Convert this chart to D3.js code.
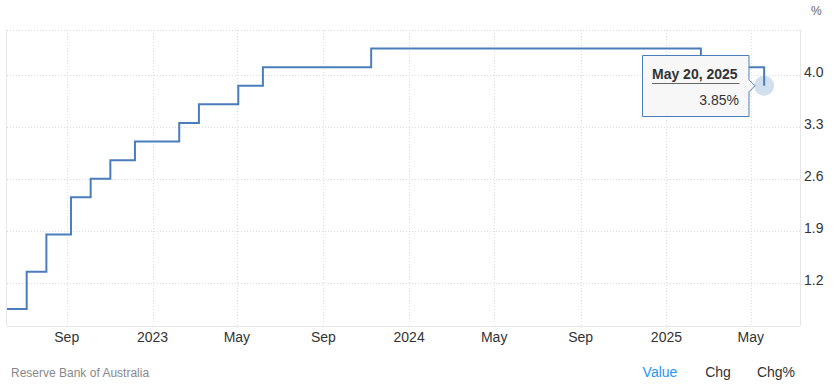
<!DOCTYPE html>
<html>
<head>
<meta charset="utf-8">
<script src="https://cdn.jsdelivr.net/npm/d3@7"></script>
<style>
  body { margin: 0; background: #fff; font-family: Arial, "Liberation Sans", sans-serif; }
</style>
</head>
<body>
<div class="chart"></div>
<script>
// RBA cash rate target, step dates and values
var rateDates = ["2022-06-08", "2022-07-06", "2022-08-03", "2022-09-07", "2022-10-05",
  "2022-11-02", "2022-12-07", "2023-02-08", "2023-03-08", "2023-05-03", "2023-06-07",
  "2023-11-08", "2025-02-19", "2025-05-20"];
var rateValues = [0.85, 1.35, 1.85, 2.35, 2.60, 2.85, 3.10, 3.35, 3.60, 3.85, 4.10, 4.35, 4.10, 3.85];
var yTicks = [1.2, 1.9, 2.6, 3.3, 4.0];
var xTickDates = ["2022-09-01", "2023-01-01", "2023-05-01", "2023-09-01", "2024-01-01",
  "2024-05-01", "2024-09-01", "2025-01-01", "2025-05-01"];
var xTickLabels = ["Sep", "2023", "May", "Sep", "2024", "May", "Sep", "2025", "May"];

var svgWidth = 834;
var svgHeight = 386;

var parse = d3.timeParse("%Y-%m-%d");
var data = rateDates.map(function(d, i) { return { date: parse(d), value: rateValues[i] }; });

var svg = d3.select(".chart")
  .append("svg")
  .attr("width", svgWidth)
  .attr("height", svgHeight);

var x = d3.scaleTime()
  .domain([parse("2022-06-08"), parse("2025-07-10")])
  .range([7, 800]);

var y = d3.scaleLinear()
  .domain([0.62, 4.6])
  .range([326, 30]);

// grid
svg.append("g").selectAll("line")
  .data(yTicks.concat([4.6]))
  .enter().append("line")
  .attr("x1", 7).attr("x2", 800)
  .attr("y1", d => Math.round(y(d)) + 0.5).attr("y2", d => Math.round(y(d)) + 0.5)
  .attr("stroke", "#dcdcdc").attr("stroke-dasharray", "1,2");

svg.append("g").selectAll("line")
  .data(xTickDates)
  .enter().append("line")
  .attr("x1", d => Math.round(x(parse(d))) + 0.5).attr("x2", d => Math.round(x(parse(d))) + 0.5)
  .attr("y1", 30).attr("y2", 326)
  .attr("stroke", "#dcdcdc").attr("stroke-dasharray", "1,2");

// frame lines
svg.append("line").attr("x1", 6.5).attr("x2", 6.5).attr("y1", 30).attr("y2", 326)
  .attr("stroke", "#e6e6e6");
svg.append("line").attr("x1", 800.5).attr("x2", 800.5).attr("y1", 30).attr("y2", 326)
  .attr("stroke", "#e6e6e6");
svg.append("line").attr("x1", 7).attr("x2", 800).attr("y1", 326.5).attr("y2", 326.5)
  .attr("stroke", "#e6e6e6");

// axis labels
svg.append("g").selectAll("text")
  .data(xTickDates)
  .enter().append("text")
  .attr("x", d => x(parse(d)))
  .attr("y", 342)
  .attr("text-anchor", "middle")
  .attr("font-size", "14px")
  .attr("fill", "#333")
  .text((d, i) => xTickLabels[i]);

svg.append("g").selectAll("text")
  .data(yTicks)
  .enter().append("text")
  .attr("x", 804)
  .attr("y", d => y(d) + 2.5)
  .attr("font-size", "14px")
  .attr("fill", "#333")
  .text(d => d.toFixed(1));

svg.append("text")
  .attr("x", 811).attr("y", 15)
  .attr("font-size", "12px")
  .attr("fill", "#666")
  .text("%");

// step line
var line = d3.line()
  .x(d => x(d.date))
  .y(d => y(d.value))
  .curve(d3.curveStepAfter);

svg.append("path")
  .datum(data)
  .attr("fill", "none")
  .attr("stroke", "#4a7ebb")
  .attr("stroke-width", 2)
  .attr("d", line);

// hover marker
var last = data[data.length - 1];
svg.append("circle")
  .attr("cx", x(last.date))
  .attr("cy", y(last.value))
  .attr("r", 10)
  .attr("fill", "#4a7ebb")
  .attr("fill-opacity", 0.25);

// tooltip
var tip = svg.append("g").attr("transform", "translate(642.5,55.5)");
var bw = 106.5;
var py = y(last.value) - 55.5;
tip.append("path")
  .attr("d", `M0,0 H${bw} V${py - 6} L${bw + 6},${py} L${bw},${py + 6} V61 H0 Z`)
  .attr("fill", "#f7f7f7")
  .attr("stroke", "#4a7ebb")
  .attr("stroke-width", 1);
tip.append("text")
  .attr("x", 9.5).attr("y", 23)
  .attr("font-size", "14px").attr("font-weight", "bold")
  .attr("fill", "#333")
  .text("May 20, 2025");
tip.append("line")
  .attr("x1", 9.5).attr("x2", 97).attr("y1", 28).attr("y2", 28)
  .attr("stroke", "#666");
tip.append("text")
  .attr("x", 96.5).attr("y", 49)
  .attr("text-anchor", "end")
  .attr("font-size", "14px")
  .attr("fill", "#333")
  .text(last.value.toFixed(2) + "%");

// footer
svg.append("text")
  .attr("x", 11).attr("y", 377)
  .attr("font-size", "12px").attr("fill", "#888")
  .text("Reserve Bank of Australia");
svg.append("text")
  .attr("x", 660).attr("y", 377).attr("text-anchor", "middle")
  .attr("font-size", "14px").attr("fill", "#2a94f4")
  .text("Value");
svg.append("text")
  .attr("x", 718).attr("y", 377).attr("text-anchor", "middle")
  .attr("font-size", "14px").attr("fill", "#333")
  .text("Chg");
svg.append("text")
  .attr("x", 776).attr("y", 377).attr("text-anchor", "middle")
  .attr("font-size", "14px").attr("fill", "#333")
  .text("Chg%");
</script>
</body>
</html>
